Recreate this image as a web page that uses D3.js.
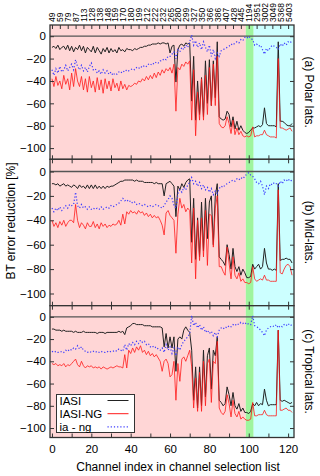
<!DOCTYPE html>
<html>
<head>
<meta charset="utf-8">
<script src="https://cdn.jsdelivr.net/npm/d3@7"></script>
<style>
body { margin: 0; background: #fff; }
svg { font-family: "Liberation Sans", Arial, sans-serif; }
</style>
</head>
<body>
<div id="chart"></div>
<script>
// channel numbers shown on the top axis (every 4th index)
const chanLabels = ["49","59","79","87","113","128","138","148","159","170","180","199","212","222","232",
  "265","280","299","327","350","366","386","407","428","445","1194","2951","3002","3049","5368","5403"];

// spectral band shading, in channel-index units
const bandEdges = [-1, 98.5, 102.5, 123];
const bandColors = ["#ffd6d6", "#9ef59e", "#ccffff"];

const panelNames = ["(a) Polar lats.", "(b) Mid-lats.", "(c) Tropical lats."];
const seriesNames = ["IASI", "IASI-NG", "ia - ng"];

// (a) polar
const polarIASI = [-10,-9,-11,-8,-12,-10,-9,-12,-8,-13, -9,-14,-10,-12,-8,-13,-9,-15,-10,-12,
  -14,-9,-15,-10,-13,-16,-11,-14,-10,-15, -11,-14,-12,-15,-10,-13,-12,-14,-11,-12,
  -12,-13,-11,-12,-11,-10,-10,-9,-9,-8, -8,-7,-7,-7,-6,-7,-6,-6,-7,-6,
  -15,-9,-8,-41,-12,-8,-7,-9,-6,-7, -6,-58,-18,-75,-40,-70,-37,-72,-22,-60,
  -21,-62,-22,-55,-5,-72,-74,-75,-74,-67, -70,-81,-72,-83,-76,-84,-80,-84,-86,-87,
  -86,-84,-82,-82,-81,-80,-81,-79,-64,-78, -80,-80,-80,-80,-81,-5,-76,-76,-77,-79, -80,-80,-78];
const polarNG = [-38,-45,-36,-44,-40,-47,-35,-43,-38,-48, -33,-45,-29,-40,-45,-36,-48,-38,-50,-36,
  -46,-40,-50,-37,-48,-39,-51,-38,-47,-40, -49,-38,-46,-42,-49,-40,-47,-43,-48,-44,
  -45,-44,-42,-43,-40,-41,-38,-40,-36,-39, -35,-38,-33,-37,-32,-35,-30,-33,-29,-31,
  -28,-33,-25,-67,-28,-30,-25,-27,-23,-25, -22,-75,-30,-89,-50,-75,-38,-75,-35,-70,
  -28,-62,-25,-62,-18,-78,-81,-82,-80,-72, -78,-87,-75,-88,-82,-88,-85,-89,-90,-89,
  -90,-89,-81,-90,-89,-89,-88,-88,-84,-88, -89,-90,-90,-90,-91,-20,-82,-82,-83,-84, -83,-82,-85];
const polarDiff = [-30,-35,-29,-33,-27,-32,-30,-26,-31,-28, -25,-30,-21,-27,-30,-26,-31,-28,-32,-27,
  -24,-30,-29,-33,-31,-34,-30,-33,-31,-34, -32,-35,-33,-34,-32,-33,-31,-32,-30,-31,
  -30,-29,-30,-28,-29,-27,-28,-26,-27,-25, -26,-24,-25,-23,-24,-22,-22,-20,-21,-18,
  -18,-16,-14,-20,-12,-14,-10,-12,-8,-10, -5,1,-8,-4,-10,-6,-12,-5,-10,-14,
  -8,-18,-12,-20,-15,-18,-13,-12,-11,-10, -9,-7,-8,-6,-5,-6,-3,-4,-1,-2,
  0,-2,-3,-8,-7,-9,-8,-12,-16,-11, -13,-10,-8,-9,-10,-12,-7,-9,-6,-8, -5,-6,-4];

// (b) mid-latitudes
const midIASI = [-10,-10,-11,-10,-12,-11,-10,-12,-11,-12, -13,-11,-12,-14,-11,-13,-12,-14,-11,-14,
  -11,-14,-11,-14,-12,-14,-12,-14,-12,-13, -12,-12,-11,-10,-9,-8,-8,-7,-7,-7,
  -7,-7,-8,-7,-8,-8,-8,-9,-9,-9, -9,-9,-10,-9,-10,-10,-10,-20,-10,-9,
  -8,-10,-12,-37,-12,-15,-10,-13,-9,-7, -6,-58,-22,-72,-38,-70,-25,-65,-22,-55,
  -25,-20,-60,-20,-10,-70,-72,-74,-77,-60, -68,-80,-63,-78,-82,-78,-85,-80,-83,-87,
  -87,-86,-76,-80,-78,-76,-80,-78,-63,-75, -80,-80,-81,-80,-81,-10,-73,-72,-72,-71, -72,-72,-75];
const midNG = [-40,-45,-42,-46,-41,-44,-40,-45,-42,-40, -40,-42,-27,-40,-46,-42,-44,-47,-42,-45,
  -45,-41,-46,-43,-47,-42,-45,-43,-46,-44, -45,-43,-44,-43,-40,-44,-35,-43,-33,-35,
  -32,-34,-33,-35,-32,-34,-33,-36,-34,-37, -35,-38,-36,-38,-37,-40,-44,-52,-34,-32,
  -36,-38,-40,-67,-35,-22,-30,-27,-33,-30, -32,-75,-30,-88,-40,-73,-38,-70,-32,-77,
  -35,-36,-62,-30,-20,-78,-78,-82,-85,-62, -75,-88,-70,-85,-88,-83,-90,-88,-91,-91,
  -92,-91,-78,-88,-90,-89,-88,-89,-85,-89, -89,-90,-90,-90,-90,-15,-83,-84,-80,-77, -76,-78,-85];
const midDiff = [-30,-33,-30,-32,-29,-32,-30,-28,-30,-27, -28,-27,-17,-28,-30,-27,-30,-29,-31,-29,
  -31,-30,-31,-30,-31,-29,-31,-30,-29,-30, -28,-29,-28,-27,-26,-24,-22,-24,-23,-25,
  -24,-26,-25,-27,-26,-27,-28,-27,-28,-29, -28,-29,-28,-27,-28,-29,-30,-28,-25,-23,
  -20,-22,-28,-30,-18,-15,-17,-13,-15,-11, -9,-5,-10,-8,-12,-9,-14,-11,-15,-13,
  -17,-14,-19,-16,-18,-14,-12,-13,-11,-10, -9,-8,-7,-8,-6,-7,-5,-6,-4,-2,
  -1,-3,-4,-6,-9,-10,-8,-12,-19,-12, -14,-10,-11,-9,-10,-12,-8,-10,-7,-8, -6,-8,-7];

// (c) tropics
const tropIASI = [-11,-11,-12,-12,-12,-13,-12,-13,-13,-13, -13,-14,-13,-14,-14,-14,-13,-14,-14,-14,
  -14,-14,-14,-15,-14,-14,-14,-15,-14,-14, -14,-14,-14,-14,-13,-14,-13,-16,-10,-9,
  -8,-6,-6,-7,-7,-7,-7,-8,-8,-8, -8,-9,-9,-9,-9,-9,-10,-27,-15,-28,
  -18,-28,-18,-49,-20,-18,-20,-12,-9,-12, -14,-30,-75,-45,-82,-45,-80,-30,-72,-35,
  -28,-65,-30,-35,-18,-75,-77,-80,-78,-63, -70,-80,-68,-80,-83,-78,-85,-82,-86,-86,
  -87,-85,-78,-80,-77,-80,-78,-79,-65,-75, -80,-79,-79,-79,-79,-12,-75,-76,-75,-76, -77,-78,-77];
const tropNG = [-42,-43,-42,-44,-43,-44,-42,-45,-43,-44, -42,-40,-38,-43,-45,-40,-44,-46,-44,-45,
  -44,-46,-45,-46,-45,-47,-45,-46,-47,-46, -45,-46,-45,-44,-45,-45,-46,-34,-46,-30,
  -33,-28,-32,-27,-30,-26,-32,-30,-34,-31, -35,-33,-36,-34,-37,-40,-49,-40,-38,-42,
  -54,-52,-40,-75,-42,-58,-38,-36,-40,-35, -30,-45,-82,-55,-85,-50,-85,-40,-80,-42,
  -38,-77,-40,-42,-22,-82,-86,-88,-85,-70, -78,-90,-75,-87,-90,-85,-92,-90,-92,-93,
  -93,-92,-77,-89,-89,-88,-88,-88,-84,-88, -89,-89,-89,-89,-89,-12,-84,-84,-83,-82, -84,-84,-86];
const tropDiff = [-31,-32,-31,-32,-32,-31,-32,-30,-31,-29, -30,-28,-29,-26,-29,-27,-30,-31,-32,-31,
  -32,-31,-32,-31,-32,-31,-32,-32,-31,-32, -31,-31,-30,-31,-29,-30,-31,-25,-30,-24,
  -26,-23,-25,-22,-24,-21,-23,-22,-25,-24, -27,-26,-28,-27,-29,-30,-28,-32,-25,-30,
  -27,-33,-28,-35,-27,-30,-25,-22,-20,-18, -15,1,-8,-5,-10,-7,-12,-9,-14,-12,
  -15,-13,-17,-14,-18,-12,-10,-11,-9,-10, -8,-9,-7,-8,-6,-7,-5,-6,-5,-7,
  -6,-7,1,-8,-9,-10,-12,-14,-17,-12, -10,-9,-8,-9,-7,-10,-8,-9,-7,-8, -6,-8,-7];

const panelData = [
  [polarIASI, polarNG, polarDiff],
  [midIASI, midNG, midDiff],
  [tropIASI, tropNG, tropDiff]
];

var width = 320, height = 476;
var left = 50, right = 294;
// vertical extent of each panel (pixels) and its lowest value
var panelBox = [
  { top: 25, bottom: 159.3, ymin: -110 },
  { top: 159.3, bottom: 305.7, ymin: -110 },
  { top: 305.7, bottom: 437.5, ymin: -108.5 }
];

var lineColors = ["#222222", "#ff1a1a", "#3b3bff"];

var svg = d3.select("#chart").append("svg")
  .attr("width", width)
  .attr("height", height);

var x = d3.scaleLinear().domain([-1, 123]).range([left, right]);

panelData.forEach(function (series, p) {
  var box = panelBox[p];
  var y = d3.scaleLinear().domain([box.ymin, 10]).range([box.bottom, box.top]);
  var g = svg.append("g");

  // band shading
  for (var b = 0; b < bandColors.length; b++) {
    g.append("rect")
      .attr("x", x(bandEdges[b]))
      .attr("y", box.top)
      .attr("width", x(bandEdges[b + 1]) - x(bandEdges[b]))
      .attr("height", box.bottom - box.top)
      .attr("fill", bandColors[b]);
  }

  // zero line
  g.append("line")
    .attr("x1", left).attr("x2", right)
    .attr("y1", y(0)).attr("y2", y(0))
    .attr("stroke", "#555").attr("stroke-width", 1.3);

  var line = d3.line()
    .x(function (d, i) { return x(i); })
    .y(function (d) { return y(d); });

  series.forEach(function (vals, s) {
    g.append("path")
      .datum(vals)
      .attr("d", line)
      .attr("fill", "none")
      .attr("stroke", lineColors[s])
      .attr("stroke-width", s == 2 ? 1.2 : 1)
      .attr("stroke-opacity", s == 1 ? 0.8 : 1)
      .attr("stroke-dasharray", s == 2 ? "1.2,2" : null);
  });

  // axes: ticks pointing inward on every side
  var xb = d3.axisBottom(x).tickValues(d3.range(0, 121, 10)).tickSizeInner(-4).tickSizeOuter(0)
    .tickFormat(p == 2 ? function (d) { return d % 20 == 0 ? d : ""; } : "");
  var gx = g.append("g").attr("transform", "translate(0," + box.bottom + ")").call(xb);
  gx.selectAll("text").attr("dy", "1.1em").style("font-size", "11.5px").style("font-family", "inherit");

  var xt;
  if (p == 0) {
    xt = d3.axisTop(x).tickValues(d3.range(0, 121, 4)).tickSizeInner(-4).tickSizeOuter(0)
      .tickFormat(function (d) { return chanLabels[d / 4]; });
  } else {
    xt = d3.axisTop(x).tickValues(d3.range(0, 121, 10)).tickSizeInner(-4).tickSizeOuter(0).tickFormat("");
  }
  var gt = g.append("g").attr("transform", "translate(0," + box.top + ")").call(xt);
  if (p == 0) {
    gt.selectAll("text")
      .attr("transform", "rotate(-90)")
      .attr("x", 3).attr("y", 3)
      .attr("dy", null)
      .style("text-anchor", "start")
      .style("font-size", "8.5px")
      .style("font-family", "inherit");
  }

  var yl = d3.axisLeft(y).tickValues([-100, -80, -60, -40, -20, 0]).tickSizeInner(-4).tickSizeOuter(0);
  var gy = g.append("g").attr("transform", "translate(" + left + ",0)").call(yl);
  gy.selectAll("text").attr("x", -4).style("font-size", "11.5px").style("font-family", "inherit");

  var yr = d3.axisRight(y).tickValues([-100, -80, -60, -40, -20, 0]).tickSizeInner(-4).tickSizeOuter(0).tickFormat("");
  g.append("g").attr("transform", "translate(" + right + ",0)").call(yr);

  g.selectAll(".domain").remove();
  g.selectAll(".tick line").attr("stroke", "#333");

  // frame
  g.append("rect")
    .attr("x", left).attr("y", box.top)
    .attr("width", right - left).attr("height", box.bottom - box.top)
    .attr("fill", "none").attr("stroke", "#333").attr("stroke-width", 1.3);

  // panel name on the right
  svg.append("text")
    .attr("transform", "translate(305," + ((box.top + box.bottom) / 2) + ") rotate(90)")
    .attr("text-anchor", "middle")
    .style("font-size", "12px")
    .text(panelNames[p]);
});

// top axis labels sit rotated above panel (a)
svg.selectAll("g").filter(function () { return false; });

// legend in panel (c)
var leg = svg.append("g").attr("transform", "translate(56.5,394.5)");
leg.append("rect")
  .attr("width", 78).attr("height", 38)
  .attr("fill", "#fff").attr("stroke", "#333").attr("stroke-width", 1);
seriesNames.forEach(function (name, s) {
  var ly = 6 + s * 13.2;
  leg.append("text")
    .attr("x", 3).attr("y", ly + 4)
    .style("font-size", "11.5px")
    .text(name);
  leg.append("line")
    .attr("x1", 51).attr("x2", 72)
    .attr("y1", ly).attr("y2", ly)
    .attr("stroke", lineColors[s])
    .attr("stroke-width", s == 2 ? 1.2 : 1)
    .attr("stroke-dasharray", s == 2 ? "1.2,2" : null);
});

// axis titles
svg.append("text")
  .attr("transform", "translate(15,221) rotate(-90)")
  .attr("text-anchor", "middle")
  .style("font-size", "12px")
  .text("BT error reduction [%]");

svg.append("text")
  .attr("x", 178).attr("y", 471)
  .attr("text-anchor", "middle")
  .style("font-size", "12px")
  .text("Channel index in channel selection list");
</script>
</body>
</html>
